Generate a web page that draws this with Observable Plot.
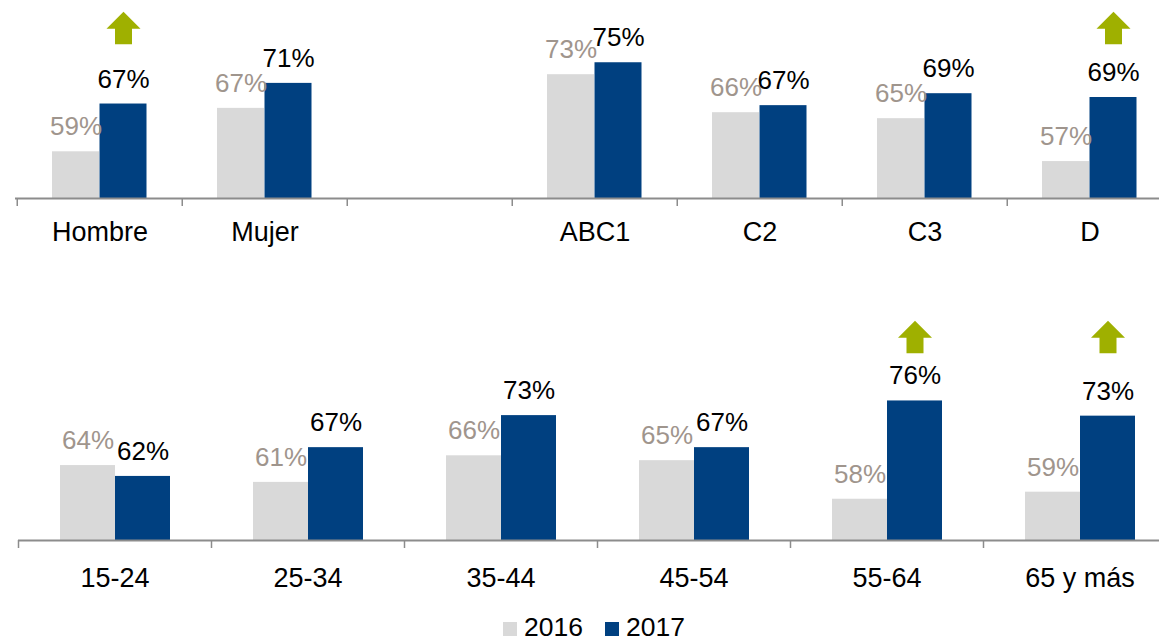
<!DOCTYPE html>
<html>
<head>
<meta charset="utf-8">
<script src="https://cdn.jsdelivr.net/npm/d3@7"></script>
<script src="https://cdn.jsdelivr.net/npm/@observablehq/plot@0.6"></script>
<style>
  html, body { margin: 0; padding: 0; background: #fff; }
  #root { position: relative; width: 1159px; height: 642px; overflow: hidden; font-family: "Liberation Sans", Arial, sans-serif; }
  #top, #bottom { position: absolute; left: 0; }
  #top { top: 0; }
  #bottom { top: 290px; }
  #legend { position: absolute; left: 503px; top: 616px; display: flex; font-size: 26.5px; line-height: 22px; color: #000; }
  #legend .item { display: flex; margin-right: 22px; }
  #legend .sw { display: inline-block; width: 14px; height: 14px; margin-top: 6px; margin-right: 7px; }
</style>
</head>
<body>
<div id="root">
  <div id="top"></div>
  <div id="bottom"></div>
  <div id="legend"></div>
</div>
<script>
// ---- Data ----
const years = ["2016", "2017"];
const yearColors = ["#d9d9d9", "#004080"];
const labelColors = ["#9f958d", "#000000"];

// Top panel: sex and socio-economic level (blank slot between groups)
const topCategories = ["Hombre", "Mujer", " ", "ABC1", "C2", "C3", "D"];
const top2016 = [58.6, 66.6, null, 72.8, 65.8, 64.7, 56.8];
const top2017 = [67.4, 71.2, null, 75.0, 67.1, 69.3, 68.6];
const topArrows = ["Hombre", "D"];

// Bottom panel: age groups
const bottomCategories = ["15-24", "25-34", "35-44", "45-54", "55-64", "65 y más"];
const bottom2016 = [63.8, 60.7, 65.6, 64.7, 57.6, 58.9];
const bottom2017 = [61.8, 67.1, 73.0, 67.1, 75.7, 72.9];
const bottomArrows = ["55-64", "65 y más"];

// ---- Helpers ----
function toRows(cats, v16, v17) {
  const out = [];
  cats.forEach((c, i) => {
    if (v16[i] != null) out.push({cat: c, year: "2016", value: v16[i]});
    if (v17[i] != null) out.push({cat: c, year: "2017", value: v17[i]});
  });
  return out;
}

const arrowSymbol = {
  draw(context, size) {
    const r = Math.sqrt(size / Math.PI);
    context.moveTo(0, -0.95 * r);
    context.lineTo(r, 0.05 * r);
    context.lineTo(0.5 * r, 0.05 * r);
    context.lineTo(0.5 * r, 0.95 * r);
    context.lineTo(-0.5 * r, 0.95 * r);
    context.lineTo(-0.5 * r, 0.05 * r);
    context.lineTo(-r, 0.05 * r);
    context.closePath();
  }
};

const fmt = d => `${Math.round(d.value)}%`;
const axisColor = "#8c8c8c";
const arrowColor = "#9fb000";

function panel({cats, v16, v17, arrows, start, step, height, marginBottom, yMax, bar, labelDx, tickPadding, arrowDy}) {
  const rows = toRows(cats, v16, v17);
  const r16 = rows.filter(d => d.year === "2016");
  const r17 = rows.filter(d => d.year === "2017");
  return Plot.plot({
    width: 1159,
    height,
    marginLeft: start,
    marginRight: 0,
    marginTop: 0,
    marginBottom,
    style: {fontFamily: "'Liberation Sans', Arial, sans-serif", color: "#000", background: "transparent", overflow: "visible"},
    x: {type: "band", domain: cats, range: [start, start + step * cats.length], padding: 0, label: null},
    y: {domain: [50, yMax], axis: null, label: null},
    marks: [
      Plot.barY(r16, {x: "cat", y1: 50, y2: "value", fill: yearColors[0], insetLeft: bar[0], insetRight: step - bar[1]}),
      Plot.barY(r17, {x: "cat", y1: 50, y2: "value", fill: yearColors[1], insetLeft: bar[1], insetRight: step - bar[2]}),
      Plot.ruleY([50], {stroke: axisColor, strokeWidth: 2}),
      Plot.axisX({tickSize: 8, tickFormat: () => "", label: null, dx: -step / 2, stroke: axisColor, strokeWidth: 1.5}),
      Plot.axisX({tickSize: 0, tickPadding, label: null, fontSize: 27, fill: "#000"}),
      Plot.text(r16, {x: "cat", y: "value", text: fmt, dx: labelDx[0], dy: -16.5, lineAnchor: "bottom", fill: labelColors[0], fontSize: 26}),
      Plot.text(r17, {x: "cat", y: "value", text: fmt, dx: labelDx[1], dy: -16.5, lineAnchor: "bottom", fill: labelColors[1], fontSize: 26}),
      Plot.dot(arrows, {x: d => d, frameAnchor: "top", dx: labelDx[1], dy: arrowDy, r: 17, symbol: arrowSymbol, fill: arrowColor, stroke: "none"})
    ]
  });
}

document.getElementById("top").append(panel({
  cats: topCategories, v16: top2016, v17: top2017, arrows: topArrows,
  start: 15, step: 165.5, height: 260, marginBottom: 62, yMax: 50 + 198 / 5.43,
  bar: [35, 82.5, 130], labelDx: [-24, 23.5], tickPadding: 23, arrowDy: 27.5
}));

document.getElementById("bottom").append(panel({
  cats: bottomCategories, v16: bottom2016, v17: bottom2017, arrows: bottomArrows,
  start: 18, step: 193, height: 310, marginBottom: 60, yMax: 50 + 250 / 5.43,
  bar: [42, 97, 152], labelDx: [-27, 28], tickPadding: 27, arrowDy: 46.5
}));

// Legend
const legend = document.getElementById("legend");
years.forEach((y, i) => {
  const item = document.createElement("div");
  item.className = "item";
  const sw = document.createElement("span");
  sw.className = "sw";
  sw.style.background = yearColors[i];
  const t = document.createElement("span");
  t.textContent = y;
  item.append(sw, t);
  legend.append(item);
});
</script>
</body>
</html>
